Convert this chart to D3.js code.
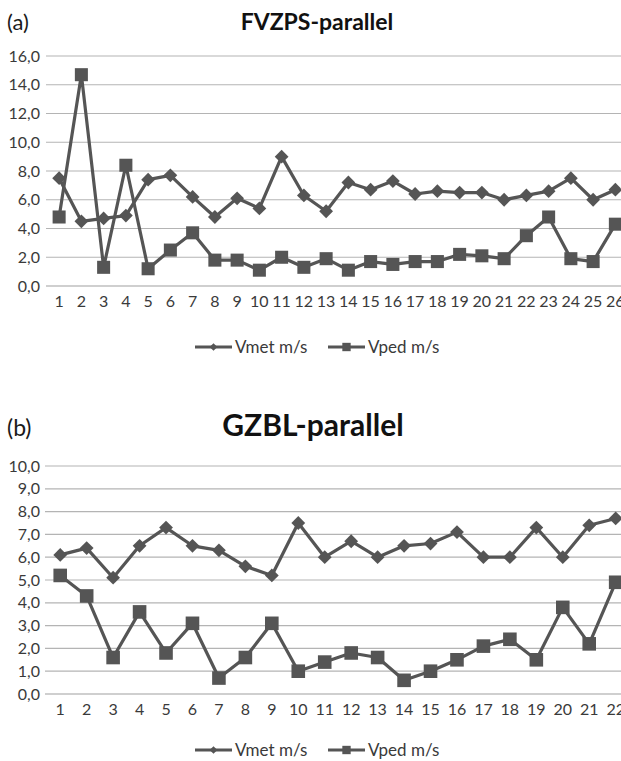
<!DOCTYPE html>
<html>
<head>
<meta charset="utf-8">
<script src="https://cdn.jsdelivr.net/npm/d3@7"></script>
<style>
  html, body { margin: 0; padding: 0; background: #fff; }
  svg { display: block; font-family: Lato, "Open Sans", sans-serif; }
</style>
</head>
<body>
<div id="chart"></div>
<script>
// panel (a) FVZPS-parallel
const casesA = [1, 2, 3, 4, 5, 6, 7, 8, 9, 10, 11, 12, 13, 14, 15, 16, 17, 18, 19, 20, 21, 22, 23, 24, 25, 26]
const vmetA = [7.5, 4.5, 4.7, 4.9, 7.4, 7.7, 6.2, 4.8, 6.1, 5.4, 9.0, 6.3, 5.2, 7.2, 6.7, 7.3, 6.4, 6.6, 6.5, 6.5, 6.0, 6.3, 6.6, 7.5, 6.0, 6.7]
const vpedA = [4.8, 14.7, 1.3, 8.4, 1.2, 2.5, 3.7, 1.8, 1.8, 1.1, 2.0, 1.3, 1.9, 1.1, 1.7, 1.5, 1.7, 1.7, 2.2, 2.1, 1.9, 3.5, 4.8, 1.9, 1.7, 4.3]
const ticksA = [0, 2, 4, 6, 8, 10, 12, 14, 16]

// panel (b) GZBL-parallel
const casesB = [1, 2, 3, 4, 5, 6, 7, 8, 9, 10, 11, 12, 13, 14, 15, 16, 17, 18, 19, 20, 21, 22]
const vmetB = [6.1, 6.4, 5.1, 6.5, 7.3, 6.5, 6.3, 5.6, 5.2, 7.5, 6.0, 6.7, 6.0, 6.5, 6.6, 7.1, 6.0, 6.0, 7.3, 6.0, 7.4, 7.7]
const vpedB = [5.2, 4.3, 1.6, 3.6, 1.8, 3.1, 0.7, 1.6, 3.1, 1.0, 1.4, 1.8, 1.6, 0.6, 1.0, 1.5, 2.1, 2.4, 1.5, 3.8, 2.2, 4.9]
const ticksB = [0, 1, 2, 3, 4, 5, 6, 7, 8, 9, 10]

const seriesNames = ["Vmet m/s", "Vped m/s"]

const W = 621, H = 761
const ink = "#555"
const labelInk = "#3a3a3a"
const fmt = v => v.toFixed(1).replace(".", ",")

const svg = d3.select("#chart").append("svg")
  .attr("width", W)
  .attr("height", H)

const marker = d3.symbol().type(d3.symbolSquare)

function drawPanel(opts) {
  const g = svg.append("g")

  const x = d3.scaleBand()
    .domain(opts.cases)
    .range([opts.left, opts.left + opts.cases.length * opts.band])

  const y = d3.scaleLinear()
    .domain([0, d3.max(opts.ticks)])
    .range([opts.bottom, opts.top])

  const cx = c => x(c) + x.bandwidth() / 2

  // letter + title
  g.append("text")
    .attr("x", 7)
    .attr("y", opts.titleY)
    .attr("font-size", opts.letterSize)
    .attr("fill", "#1a1a1a")
    .text(opts.letter)

  g.append("text")
    .attr("x", opts.titleX)
    .attr("y", opts.titleY)
    .attr("text-anchor", "middle")
    .attr("font-size", opts.titleSize)
    .attr("font-weight", "bold")
    .attr("fill", "#111")
    .text(opts.title)

  // gridlines
  g.append("g")
    .selectAll("line")
    .data(opts.ticks)
    .join("line")
      .attr("x1", opts.left - 2)
      .attr("x2", W)
      .attr("y1", d => y(d))
      .attr("y2", d => y(d))
      .attr("stroke", d => d === 0 ? "#a0a0a0" : "#b4b4b4")
      .attr("stroke-width", 1.2)

  // y labels
  g.append("g")
    .selectAll("text")
    .data(opts.ticks)
    .join("text")
      .attr("x", 40)
      .attr("y", d => y(d))
      .attr("dy", "0.35em")
      .attr("text-anchor", "end")
      .attr("font-size", 16)
      .attr("fill", labelInk)
      .text(fmt)

  // x labels
  g.append("g")
    .selectAll("text")
    .data(opts.cases)
    .join("text")
      .attr("x", d => cx(d))
      .attr("y", opts.bottom + 21)
      .attr("text-anchor", "middle")
      .attr("font-size", 16)
      .attr("fill", labelInk)
      .text(d => d)

  const line = d3.line()
    .x((d, i) => cx(opts.cases[i]))
    .y(d => y(d))

  // Vmet line + diamonds
  g.append("path")
    .datum(opts.vmet)
    .attr("fill", "none")
    .attr("stroke", ink)
    .attr("stroke-width", 3.2)
    .attr("stroke-linejoin", "round")
    .attr("d", line)

  g.append("g")
    .selectAll("path")
    .data(opts.vmet)
    .join("path")
      .attr("transform", (d, i) => `translate(${cx(opts.cases[i])},${y(d)}) rotate(45)`)
      .attr("d", marker.size(opts.diamondSize)())
      .attr("fill", ink)

  // Vped line + squares
  g.append("path")
    .datum(opts.vped)
    .attr("fill", "none")
    .attr("stroke", ink)
    .attr("stroke-width", 3.2)
    .attr("stroke-linejoin", "round")
    .attr("d", line)

  g.append("g")
    .selectAll("path")
    .data(opts.vped)
    .join("path")
      .attr("transform", (d, i) => `translate(${cx(opts.cases[i])},${y(d)})`)
      .attr("d", marker.size(opts.squareSize)())
      .attr("fill", ink)

  // legend
  const leg = g.append("g").attr("transform", `translate(0,${opts.legendY})`)
  const items = [
    { name: seriesNames[0], x0: 195, rot: 45, size: 30 },
    { name: seriesNames[1], x0: 328, rot: 0, size: 70 }
  ]
  items.forEach(it => {
    leg.append("line")
      .attr("x1", it.x0).attr("x2", it.x0 + 37)
      .attr("y1", 0).attr("y2", 0)
      .attr("stroke", ink)
      .attr("stroke-width", 3)
    leg.append("path")
      .attr("transform", `translate(${it.x0 + 18.5},0) rotate(${it.rot})`)
      .attr("d", marker.size(it.size)())
      .attr("fill", ink)
    leg.append("text")
      .attr("x", it.x0 + 40)
      .attr("y", 0)
      .attr("dy", "0.35em")
      .attr("font-size", 17)
      .attr("fill", labelInk)
      .text(it.name)
  })
}

drawPanel({
  letter: "(a)", title: "FVZPS-parallel",
  titleX: 317, titleY: 30, titleSize: 23, letterSize: 22,
  cases: casesA, vmet: vmetA, vped: vpedA, ticks: ticksA,
  left: 48, band: 22.25, top: 56, bottom: 286,
  legendY: 347, diamondSize: 95, squareSize: 170
})

drawPanel({
  letter: "(b)", title: "GZBL-parallel",
  titleX: 313, titleY: 436, titleSize: 30, letterSize: 23,
  cases: casesB, vmet: vmetB, vped: vpedB, ticks: ticksB,
  left: 47, band: 26.45, top: 466, bottom: 694,
  legendY: 750, diamondSize: 95, squareSize: 185
})
</script>
</body>
</html>
